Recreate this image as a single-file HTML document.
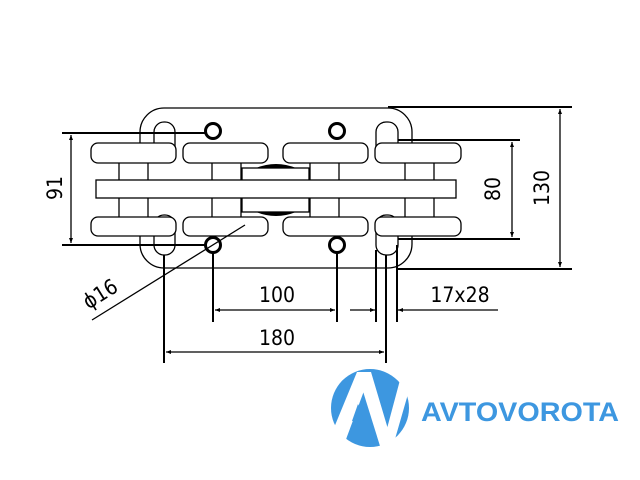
<!DOCTYPE html>
<html><head><meta charset="utf-8"><style>html,body{margin:0;padding:0;background:#fff}svg{display:block}</style></head>
<body>
<svg width="640" height="480" viewBox="0 0 640 480" xmlns="http://www.w3.org/2000/svg" font-family="Liberation Sans, sans-serif">
<defs>
<marker id="ar" viewBox="0 0 10 10" refX="10" refY="5" markerWidth="9" markerHeight="5" orient="auto-start-reverse" markerUnits="userSpaceOnUse"><path d="M0,1 L10,5 L0,9z" fill="#000"/></marker>
</defs>
<g fill="#fff" stroke="#000" stroke-width="1.3">
<rect x="140" y="108" width="272" height="160" rx="24"/>
<rect x="154" y="122" width="21" height="40" rx="10"/>
<rect x="376" y="122" width="22" height="40" rx="10"/>
<rect x="154" y="215" width="21" height="40" rx="10"/>
<rect x="376" y="215" width="22" height="40" rx="10"/>
<rect x="119" y="160" width="29" height="60"/>
<rect x="212" y="160" width="29" height="60"/>
<rect x="310" y="160" width="29" height="60"/>
<rect x="405" y="160" width="29" height="60"/>
<rect x="242" y="168" width="67" height="44"/>
<rect x="96" y="180" width="360" height="18"/>
<rect x="91" y="143" width="85" height="20" rx="7"/>
<rect x="183" y="143" width="85" height="20" rx="7"/>
<rect x="283" y="143" width="85" height="20" rx="7"/>
<rect x="375" y="143" width="86" height="20" rx="7"/>
<rect x="91" y="217" width="85" height="19" rx="7"/>
<rect x="183" y="217" width="85" height="19" rx="7"/>
<rect x="283" y="217" width="85" height="19" rx="7"/>
<rect x="375" y="217" width="86" height="19" rx="7"/>
</g>
<path d="M256,168 Q276,160 296,168 Z" fill="#000"/>
<path d="M256,212 Q276,220 296,212 Z" fill="#000"/>
<g fill="#fff" stroke="#000" stroke-width="3">
<circle cx="213" cy="131" r="7.5"/><circle cx="337" cy="131" r="7.5"/>
<circle cx="213" cy="245" r="7.5"/><circle cx="337" cy="245" r="7.5"/>
</g>
<g stroke="#000" stroke-width="2" fill="none">
<line x1="62" y1="133" x2="206" y2="133"/>
<line x1="62" y1="245" x2="206" y2="245"/>
<line x1="71" y1="135" x2="71" y2="243" stroke-width="1.3" marker-start="url(#ar)" marker-end="url(#ar)"/>
<line x1="398" y1="140" x2="520" y2="140"/>
<line x1="398" y1="239" x2="520" y2="239"/>
<line x1="512" y1="142" x2="512" y2="237" stroke-width="1.3" marker-start="url(#ar)" marker-end="url(#ar)"/>
<line x1="388" y1="107" x2="572" y2="107"/>
<line x1="398" y1="269" x2="572" y2="269"/>
<line x1="560" y1="109" x2="560" y2="267" stroke-width="1.3" marker-start="url(#ar)" marker-end="url(#ar)"/>
<line x1="164" y1="255" x2="164" y2="363"/>
<line x1="213" y1="252" x2="213" y2="322"/>
<line x1="337" y1="252" x2="337" y2="322"/>
<line x1="376" y1="250" x2="376" y2="322"/>
<line x1="386" y1="255" x2="386" y2="363"/>
<line x1="397" y1="245" x2="397" y2="322"/>
<line x1="215" y1="310" x2="335" y2="310" stroke-width="1.3" marker-start="url(#ar)" marker-end="url(#ar)"/>
<line x1="350" y1="310" x2="375" y2="310" stroke-width="1.3" marker-end="url(#ar)"/>
<line x1="498" y1="310" x2="398" y2="310" stroke-width="1.3" marker-end="url(#ar)"/>
<line x1="166" y1="352" x2="384" y2="352" stroke-width="1.3" marker-start="url(#ar)" marker-end="url(#ar)"/>
<line x1="92" y1="320" x2="245" y2="225" stroke-width="1.3"/>
</g>
<g font-size="21" fill="#000" font-family="DejaVu Sans Condensed, Liberation Sans, sans-serif">
<text x="277" y="302" text-anchor="middle">100</text>
<text x="460" y="302" text-anchor="middle">17x28</text>
<text x="277" y="345" text-anchor="middle">180</text>
<text transform="translate(62,188) rotate(-90)" text-anchor="middle">91</text>
<text transform="translate(500,189) rotate(-90)" text-anchor="middle">80</text>
<text transform="translate(549,188) rotate(-90)" text-anchor="middle">130</text>
<text transform="translate(104,300) rotate(-32)" text-anchor="middle">ϕ16</text>
</g>
<circle cx="370" cy="408" r="39" fill="#3d97e0"/>
<g fill="#fff">
<polygon points="357,372 371,372 345,442 331,435"/>
<polygon points="357,372 371,372 393,446 380,446"/>
<polygon points="400,380 410,387 393,446 385,436"/>
</g>
<polygon points="358,404 364,421 352,421" fill="#3d97e0"/>
<text x="421" y="421" font-size="27" font-weight="bold" fill="#3d97e0" textLength="198" lengthAdjust="spacingAndGlyphs">AVTOVOROTA</text>
</svg>
</body></html>
